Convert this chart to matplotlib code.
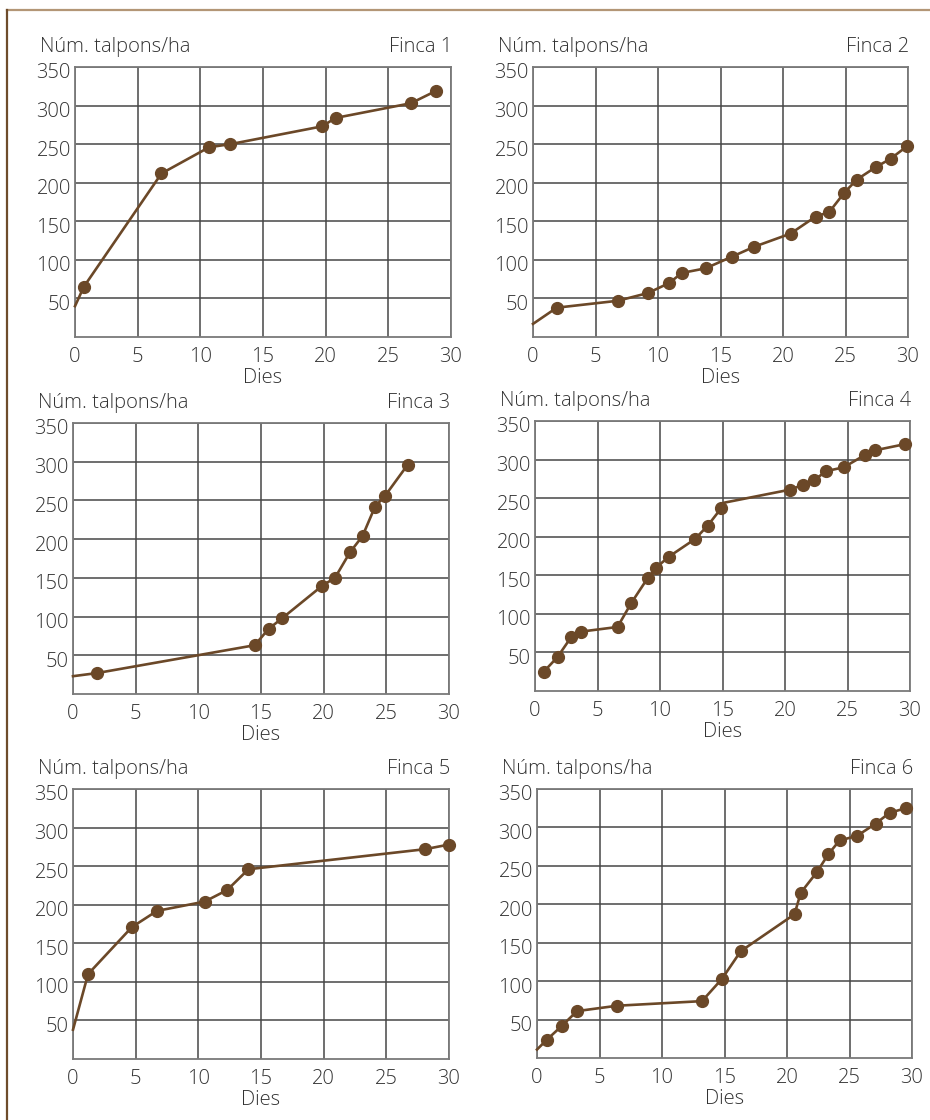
import matplotlib
matplotlib.use("Agg")
import matplotlib.pyplot as plt
from matplotlib.lines import Line2D
from matplotlib.transforms import ScaledTranslation

plt.rcParams['font.family'] = ['Open Sans', 'DejaVu Sans']
plt.rcParams['font.weight'] = 'light'

# ---------------- data ----------------
ylabel_text = "Núm. talpons/ha"
xlabel_text = "Dies"
panel_titles = ["Finca 1", "Finca 2", "Finca 3", "Finca 4", "Finca 5", "Finca 6"]
x_ticks = [0, 5, 10, 15, 20, 25, 30]
y_ticks = [50, 100, 150, 200, 250, 300, 350]

finca1_dies = [0, 0.7, 6.9, 10.7, 12.4, 19.7, 20.8, 26.8, 28.8]
finca1_talpons = [40, 65, 212, 246, 250, 273, 284, 303, 319]
finca1_no_marker = [0]

finca2_dies = [0, 1.9, 6.8, 9.2, 10.9, 11.9, 13.8, 15.9, 17.7, 20.6, 22.6, 23.7,
               24.9, 25.9, 27.4, 28.6, 29.9]
finca2_talpons = [17, 38, 47, 57, 70, 83, 89, 104, 117, 134, 156, 162, 187, 204,
                  220, 231, 247]
finca2_no_marker = [0]

finca3_dies = [0, 1.9, 14.5, 15.6, 16.7, 19.9, 20.9, 22.1, 23.1, 24.1, 24.9, 26.7]
finca3_talpons = [23, 27, 63, 84, 98, 140, 150, 183, 204, 242, 256, 296]
finca3_no_marker = [0]

finca4_dies = [0.7, 1.8, 2.9, 3.7, 6.6, 7.7, 9.0, 9.7, 10.7, 12.8, 13.8, 14.9, 15.1,
               20.4, 21.4, 22.3, 23.3, 24.7, 26.4, 27.2, 29.6]
finca4_talpons = [25, 44, 70, 77, 83, 114, 146, 160, 174, 197, 214, 237, 244,
                  261, 267, 273, 285, 290, 306, 312, 320]
finca4_no_marker = [12]

finca5_dies = [0, 1.2, 4.7, 6.7, 10.5, 12.3, 14.0, 28.1, 30.0]
finca5_talpons = [38, 110, 171, 192, 204, 219, 246, 272, 278]
finca5_no_marker = [0]

finca6_dies = [0, 0.8, 2.0, 3.2, 6.4, 13.2, 14.8, 16.3, 20.6, 21.1, 22.4, 23.3,
               24.2, 25.6, 27.1, 28.2, 29.5]
finca6_talpons = [11, 24, 42, 61, 68, 74, 103, 139, 187, 215, 242, 265, 283, 289,
                  305, 319, 325]
finca6_no_marker = [0]

series = [
    (finca1_dies, finca1_talpons, finca1_no_marker),
    (finca2_dies, finca2_talpons, finca2_no_marker),
    (finca3_dies, finca3_talpons, finca3_no_marker),
    (finca4_dies, finca4_talpons, finca4_no_marker),
    (finca5_dies, finca5_talpons, finca5_no_marker),
    (finca6_dies, finca6_talpons, finca6_no_marker),
]

# ---------------- layout / style ----------------
W, H = 930, 1120
fig = plt.figure(figsize=(W / 100, H / 100), dpi=100)
fig.patch.set_facecolor("white")

# pixel boxes: left, top, right, bottom
boxes = [
    (75, 67, 451, 337),
    (533, 67, 908, 337),
    (73, 423, 449, 694),
    (535, 421, 910, 691),
    (73, 789, 449, 1059),
    (537, 789, 912, 1058),
]

brown = "#6b4828"
text_color = "#333333"
grid_color = "#474747"
spine_color = "#7a7a7a"
fs = 14.5

# page border lines
fig.add_artist(Line2D([7 / W, 1.0], [1 - 10 / H, 1 - 10 / H], transform=fig.transFigure,
                      color="#b39676", lw=1.6))
fig.add_artist(Line2D([7 / W, 7 / W], [1 - 10 / H, 0], transform=fig.transFigure,
                      color="#6e4c2c", lw=1.6))

down = ScaledTranslation(0, -4 / 100, fig.dpi_scale_trans)

for (l, t, r, b), (xs, ys, nomark), title in zip(boxes, series, panel_titles):
    ax = fig.add_axes([l / W, 1 - b / H, (r - l) / W, (b - t) / H])
    ax.set_xlim(0, 30)
    ax.set_ylim(0, 350)
    ax.set_xticks(x_ticks)
    ax.set_yticks(y_ticks)
    ax.tick_params(length=0, labelsize=fs, labelcolor=text_color)
    ax.tick_params(axis="x", pad=7)
    ax.tick_params(axis="y", pad=3)
    for lab in ax.get_yticklabels():
        lab.set_transform(lab.get_transform() + down)
    ax.grid(True, color=grid_color, lw=1.1, zorder=0)
    ax.set_axisbelow(True)
    for sp in ax.spines.values():
        sp.set_color(spine_color)
        sp.set_linewidth(1.3)

    marked = [i for i in range(len(xs)) if i not in nomark]
    ax.plot(xs, ys, color=brown, lw=1.9, marker="o", markersize=8.5,
            markevery=marked, markerfacecolor=brown, markeredgecolor=brown,
            clip_on=False, zorder=3)

    ax.annotate(ylabel_text, xy=(0, 1), xycoords="axes fraction",
                xytext=(-35, 20), textcoords="offset pixels",
                ha="left", va="center", fontsize=fs, color=text_color)
    ax.annotate(title, xy=(1, 1), xycoords="axes fraction",
                xytext=(1, 20), textcoords="offset pixels",
                ha="right", va="center", fontsize=fs, color=text_color)
    ax.annotate(xlabel_text, xy=(0.5, 0), xycoords="axes fraction",
                xytext=(0, -41), textcoords="offset pixels",
                ha="center", va="center", fontsize=fs, color=text_color)

fig.savefig("out.png", dpi=100, facecolor="white")
